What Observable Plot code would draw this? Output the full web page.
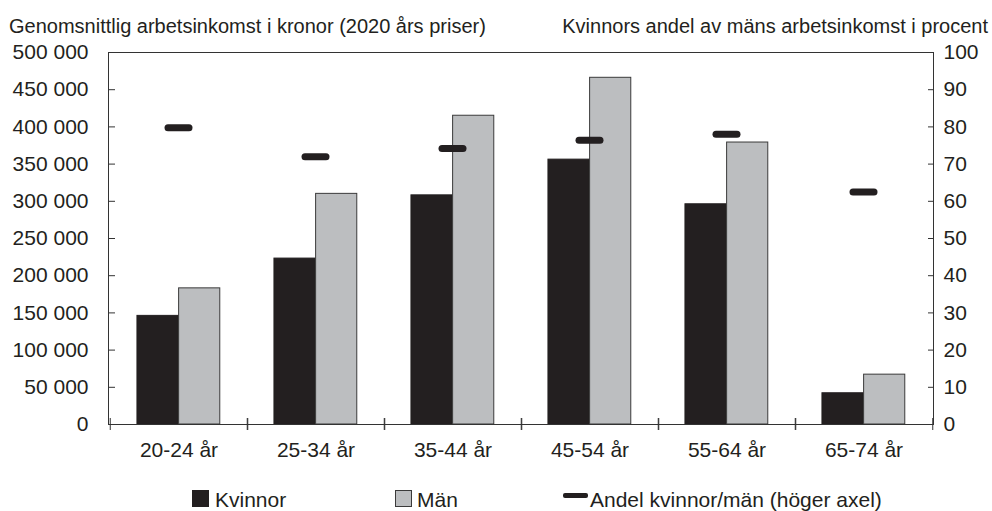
<!DOCTYPE html>
<html>
<head>
<meta charset="utf-8">
<script src="https://cdn.jsdelivr.net/npm/d3@7"></script>
<script src="https://cdn.jsdelivr.net/npm/@observablehq/plot@0.6"></script>
<style>
  body { margin: 0; background: #fff; font-family: "Liberation Sans", Arial, sans-serif; color: #231f20; }
  #wrap { position: relative; width: 992px; height: 511px; overflow: hidden; }
  .t { position: absolute; top: 14px; font-size: 20px; line-height: 24px; white-space: nowrap; }
  #chart { position: absolute; left: 0; top: 40px; }
  .lt { position: absolute; top: 489px; font-size: 21px; line-height: 21px; white-space: nowrap; }
  .sw { position: absolute; box-sizing: border-box; }
</style>
</head>
<body>
<div id="wrap">
  <div class="t" style="left:9px">Genomsnittlig arbetsinkomst i kronor (2020 års priser)</div>
  <div class="t" style="right:4px">Kvinnors andel av mäns arbetsinkomst i procent</div>
  <div id="chart"></div>
  <div class="sw" style="left:192px;top:490px;width:17px;height:17px;background:#231f20"></div>
  <div class="lt" style="left:215px">Kvinnor</div>
  <div class="sw" style="left:395px;top:490px;width:17px;height:17px;background:#bcbec0;border:1px solid #3a3a3a"></div>
  <div class="lt" style="left:417px">Män</div>
  <div class="sw" style="left:563px;top:493px;width:25px;height:5px;background:#231f20;border-radius:2px"></div>
  <div class="lt" style="left:590px">Andel kvinnor/män (höger axel)</div>
</div>
<script>
const categories = ["20-24 år", "25-34 år", "35-44 år", "45-54 år", "55-64 år", "65-74 år"];
const kvinnor = [146000, 223000, 308000, 356000, 296000, 42000];
const man = [183000, 310000, 415000, 466000, 379000, 67000];
const andel = [79.8, 72.0, 74.2, 76.4, 78.0, 62.5];
const leftTicks = [0, 50000, 100000, 150000, 200000, 250000, 300000, 350000, 400000, 450000, 500000];
const rightTicks = [0, 10, 20, 30, 40, 50, 60, 70, 80, 90, 100];

const W = 992, H = 430, mL = 108, mR = 59, mT = 12, mB = 46;
const yMax = 500000, rMax = 100, k = yMax / rMax;
const step = (W - mL - mR) / categories.length;
const pad = step * 0.196, bw = step * 0.303, markW = 28.5, markH = 7;

const rows = categories.map((c, i) => ({cat: c, kvinnor: kvinnor[i], man: man[i], andel: andel[i]}));
const fmt = d => d3.format(",")(d).replace(/,/g, " ");
const ink = "#231f20";

const chart = Plot.plot({
  width: W, height: H,
  marginLeft: mL, marginRight: mR, marginTop: mT, marginBottom: mB,
  style: {fontSize: "21px", fontFamily: "'Liberation Sans', Arial, sans-serif", color: ink, background: "transparent", overflow: "visible"},
  x: {type: "band", domain: categories, padding: 0},
  y: {domain: [0, yMax]},
  marks: [
    Plot.barY(rows, {x: "cat", y: "kvinnor", fill: ink, stroke: ink, strokeWidth: 1, insetLeft: pad, insetRight: step - pad - bw}),
    Plot.barY(rows, {x: "cat", y: "man", fill: "#bcbec0", stroke: "#3a3a3a", strokeWidth: 1, insetLeft: pad + bw, insetRight: step - pad - 2 * bw}),
    Plot.tickY(rows, {x: "cat", y: d => d.andel * k, stroke: ink, strokeWidth: markH, strokeLinecap: "round",
      insetLeft: (step - markW) / 2 + markH / 2, insetRight: (step - markW) / 2 + markH / 2}),
    Plot.frame({stroke: "#333"}),
    // left axis
    Plot.axisY({anchor: "left", ticks: leftTicks, tickSize: 0, tickPadding: 20, tickFormat: fmt, label: null}),
    Plot.axisY({anchor: "left", ticks: leftTicks, tickSize: 7, dx: 7, fill: "none", stroke: "#333", label: null}),
    // right axis (percent)
    Plot.axisY({anchor: "right", ticks: rightTicks.map(v => v * k), tickSize: 0, tickPadding: 10, tickFormat: d => String(Math.round(d / k)), label: null}),
    Plot.axisY({anchor: "right", ticks: rightTicks.map(v => v * k), tickSize: 6, dx: -6, fill: "none", stroke: "#333", label: null}),
    // x axis
    Plot.axisX({anchor: "bottom", tickSize: 0, tickPadding: 18, label: null}),
    Plot.axisX({anchor: "bottom", tickSize: 12, dx: -step / 2, dy: -6, fill: "none", stroke: "#333", label: null}),
    Plot.axisX({anchor: "bottom", tickSize: 12, dx: step / 2, dy: -6, fill: "none", stroke: "#333", label: null})
  ]
});
document.getElementById("chart").appendChild(chart);
</script>
</body>
</html>
